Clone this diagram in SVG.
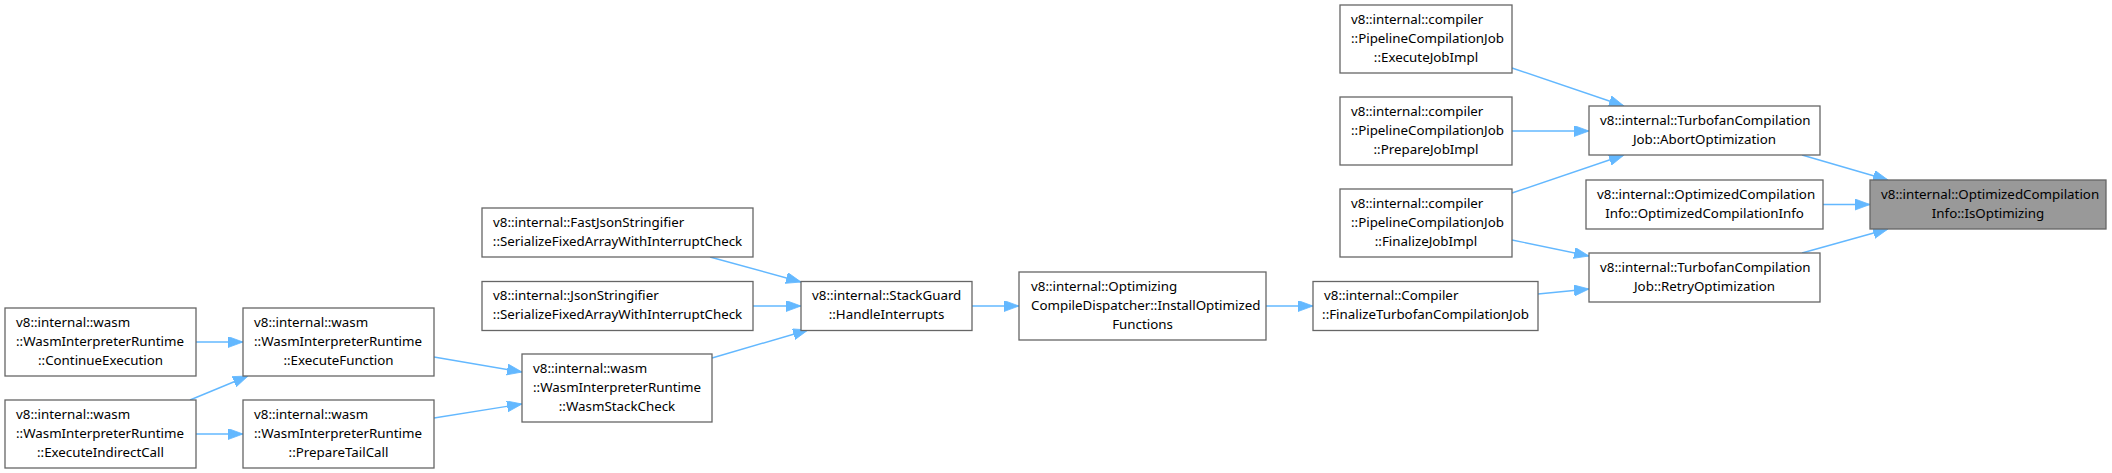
<svg xmlns="http://www.w3.org/2000/svg" width="2112" height="473" viewBox="0 0 2112 473">
<style>
.box{fill:#ffffff;stroke:#666666;stroke-width:1.3}
.hl{fill:#999999;stroke:#666666;stroke-width:1.3}
text{font-family:"Noto Sans","Open Sans","Liberation Sans",sans-serif;font-size:13.33px;fill:#000000}
.c{text-anchor:middle}
.e{stroke:#63b8ff;stroke-width:1.4;fill:none;marker-end:url(#ah)}
</style>
<defs>
<marker id="ah" markerUnits="userSpaceOnUse" markerWidth="16" markerHeight="12" refX="15" refY="5.5" orient="auto">
<path d="M0,0 L15,5.5 L0,11 z" fill="#63b8ff" stroke="#63b8ff" stroke-width="0.8"/>
</marker>
</defs>
<rect width="2112" height="473" fill="#ffffff"/>
<g id="edges">
<line class="e" x1="1802" y1="155" x2="1888" y2="180"/>
<line class="e" x1="1823" y1="204.5" x2="1870" y2="204.5"/>
<line class="e" x1="1802" y1="253" x2="1888" y2="229"/>
<line class="e" x1="1512" y1="68" x2="1624" y2="106"/>
<line class="e" x1="1512" y1="131" x2="1589" y2="131"/>
<line class="e" x1="1512" y1="193" x2="1624" y2="155"/>
<line class="e" x1="1512" y1="240" x2="1589" y2="256"/>
<line class="e" x1="1538" y1="294" x2="1589" y2="289"/>
<line class="e" x1="1266" y1="306" x2="1313" y2="306"/>
<line class="e" x1="972" y1="306" x2="1019" y2="306"/>
<line class="e" x1="710" y1="257" x2="801" y2="282"/>
<line class="e" x1="753" y1="306" x2="801" y2="306"/>
<line class="e" x1="712" y1="358" x2="808" y2="330"/>
<line class="e" x1="434" y1="357" x2="522" y2="372"/>
<line class="e" x1="434" y1="418" x2="522" y2="404"/>
<line class="e" x1="196" y1="342" x2="243" y2="342"/>
<line class="e" x1="190" y1="400" x2="248" y2="376"/>
<line class="e" x1="196" y1="434" x2="243" y2="434"/>
</g>
<g id="n0">
<rect class="hl" x="1870" y="180" width="236" height="49"/>
<text x="1881" y="198.5">v8::internal::OptimizedCompilation</text>
<text class="c" x="1988" y="217.5">Info::IsOptimizing</text>
</g>
<g id="n1">
<rect class="box" x="1589" y="106" width="231" height="49"/>
<text x="1600" y="124.5">v8::internal::TurbofanCompilation</text>
<text class="c" x="1704.5" y="143.5">Job::AbortOptimization</text>
</g>
<g id="n2">
<rect class="box" x="1586" y="180" width="237" height="49"/>
<text x="1597" y="198.5">v8::internal::OptimizedCompilation</text>
<text class="c" x="1704.5" y="217.5">Info::OptimizedCompilationInfo</text>
</g>
<g id="n3">
<rect class="box" x="1589" y="253" width="231" height="49"/>
<text x="1600" y="271.5">v8::internal::TurbofanCompilation</text>
<text class="c" x="1704.5" y="290.5">Job::RetryOptimization</text>
</g>
<g id="n4">
<rect class="box" x="1340" y="5" width="172" height="68"/>
<text x="1351" y="23.5">v8::internal::compiler</text>
<text x="1351" y="42.5">::PipelineCompilationJob</text>
<text class="c" x="1426" y="61.5">::ExecuteJobImpl</text>
</g>
<g id="n5">
<rect class="box" x="1340" y="97" width="172" height="68"/>
<text x="1351" y="115.5">v8::internal::compiler</text>
<text x="1351" y="134.5">::PipelineCompilationJob</text>
<text class="c" x="1426" y="153.5">::PrepareJobImpl</text>
</g>
<g id="n6">
<rect class="box" x="1340" y="189" width="172" height="68"/>
<text x="1351" y="207.5">v8::internal::compiler</text>
<text x="1351" y="226.5">::PipelineCompilationJob</text>
<text class="c" x="1426" y="245.5">::FinalizeJobImpl</text>
</g>
<g id="n7">
<rect class="box" x="1313" y="281.5" width="225" height="49"/>
<text x="1324" y="300">v8::internal::Compiler</text>
<text class="c" x="1425.5" y="319">::FinalizeTurbofanCompilationJob</text>
</g>
<g id="n8">
<rect class="box" x="1019" y="272" width="247" height="68"/>
<text x="1031" y="290.5">v8::internal::Optimizing</text>
<text x="1031" y="309.5">CompileDispatcher::InstallOptimized</text>
<text class="c" x="1142.5" y="328.5">Functions</text>
</g>
<g id="n9">
<rect class="box" x="801" y="281.5" width="171" height="49"/>
<text x="812" y="300">v8::internal::StackGuard</text>
<text class="c" x="886.5" y="319">::HandleInterrupts</text>
</g>
<g id="n10">
<rect class="box" x="482" y="208" width="271" height="49"/>
<text x="493" y="226.5">v8::internal::FastJsonStringifier</text>
<text class="c" x="617.5" y="245.5">::SerializeFixedArrayWithInterruptCheck</text>
</g>
<g id="n11">
<rect class="box" x="482" y="281.5" width="271" height="49"/>
<text x="493" y="300">v8::internal::JsonStringifier</text>
<text class="c" x="617.5" y="319">::SerializeFixedArrayWithInterruptCheck</text>
</g>
<g id="n12">
<rect class="box" x="522" y="354" width="190" height="68"/>
<text x="533" y="372.5">v8::internal::wasm</text>
<text x="533" y="391.5">::WasmInterpreterRuntime</text>
<text class="c" x="617" y="410.5">::WasmStackCheck</text>
</g>
<g id="n13">
<rect class="box" x="243" y="308" width="191" height="68"/>
<text x="254" y="326.5">v8::internal::wasm</text>
<text x="254" y="345.5">::WasmInterpreterRuntime</text>
<text class="c" x="338.5" y="364.5">::ExecuteFunction</text>
</g>
<g id="n14">
<rect class="box" x="243" y="400" width="191" height="68"/>
<text x="254" y="418.5">v8::internal::wasm</text>
<text x="254" y="437.5">::WasmInterpreterRuntime</text>
<text class="c" x="338.5" y="456.5">::PrepareTailCall</text>
</g>
<g id="n15">
<rect class="box" x="5" y="308" width="191" height="68"/>
<text x="16" y="326.5">v8::internal::wasm</text>
<text x="16" y="345.5">::WasmInterpreterRuntime</text>
<text class="c" x="100.5" y="364.5">::ContinueExecution</text>
</g>
<g id="n16">
<rect class="box" x="5" y="400" width="191" height="68"/>
<text x="16" y="418.5">v8::internal::wasm</text>
<text x="16" y="437.5">::WasmInterpreterRuntime</text>
<text class="c" x="100.5" y="456.5">::ExecuteIndirectCall</text>
</g>
</svg>
